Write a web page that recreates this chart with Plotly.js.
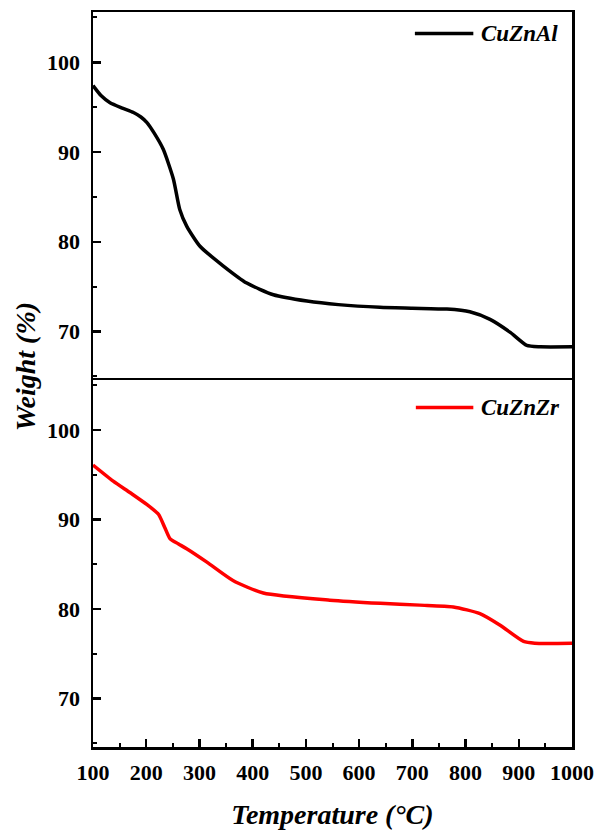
<!DOCTYPE html>
<html>
<head>
<meta charset="utf-8">
<script src="https://cdn.plot.ly/plotly-3.0.1.min.js"></script>
<style>html,body{margin:0;padding:0;background:#fff;}#chart{width:598px;height:830px;}</style>
</head>
<body>
<div id="chart"></div>
<script>
// Data
const seriesNames = ["CuZnAl", "CuZnZr"];
const tempAl = [100,115,132,155,176,190,201,215,232,251,263,276,301,345,389,439,502,561,639,700,765,808,846,884,915,940,1000];
const weightAl = [97.4,96.3,95.5,94.9,94.4,93.9,93.3,92.1,90.3,87.0,83.6,81.75,79.5,77.3,75.4,74.1,73.4,73.0,72.7,72.6,72.5,72.2,71.35,69.9,68.45,68.3,68.3];
const tempZr = [100,138,170,201,223,235,245,260,276,314,363,420,545,640,714,777,827,865,909,930,1000];
const weightZr = [96.1,94.3,93.0,91.7,90.6,89.1,87.85,87.3,86.75,85.25,83.2,81.8,81.0,80.65,80.45,80.25,79.5,78.2,76.4,76.2,76.2];
const xTicks = [100,200,300,400,500,600,700,800,900,1000];
const yTicks = [70,80,90,100];
const colors = ["#000000", "#ff0000"];

const fontFam = "Liberation Serif, Times New Roman, serif";

const traces = [
  {x: tempAl, y: weightAl, xaxis: "x", yaxis: "y", mode: "lines", name: seriesNames[0],
   line: {color: colors[0], width: 3.5, shape: "spline", smoothing: 0.6}, showlegend: false},
  {x: tempZr, y: weightZr, xaxis: "x2", yaxis: "y2", mode: "lines", name: seriesNames[1],
   line: {color: colors[1], width: 3.5, shape: "spline", smoothing: 0.6}, showlegend: false}
];

const yCommon = {
  range: [64.6, 105.6], tickvals: yTicks, ticktext: yTicks.map(v => "<b>" + v + "</b>"),
  ticks: "inside", ticklen: 8, tickwidth: 2.5, tickcolor: "#000",
  minor: {dtick: 5, ticks: "inside", ticklen: 4, tickwidth: 2, tickcolor: "#000"},
  showline: true, linewidth: 2.5, linecolor: "#000", mirror: true,
  showgrid: false, zeroline: false, ticklabelstandoff: 6,
  tickfont: {family: fontFam, size: 22, color: "#000"}
};

const layout = {
  width: 598, height: 830,
  margin: {l: 93, r: 26, t: 12, b: 83},
  paper_bgcolor: "#fff", plot_bgcolor: "#fff",
  showlegend: false,
  xaxis: {domain: [0,1], anchor: "y", side: "top", range: [100,1000], matches: "x2",
          showticklabels: false, ticks: "", showline: true, linewidth: 2.5, linecolor: "#000",
          mirror: false, showgrid: false, zeroline: false},
  yaxis: Object.assign({}, yCommon, {domain: [0.4993, 1], anchor: "x"}),
  xaxis2: {domain: [0,1], anchor: "y2", range: [100,1000], tickvals: xTicks,
           ticktext: xTicks.map(v => "<b>" + v + "</b>"),
           ticks: "inside", ticklen: 8, tickwidth: 2.5, tickcolor: "#000",
           minor: {dtick: 50, ticks: "inside", ticklen: 4, tickwidth: 2, tickcolor: "#000"},
           showline: true, linewidth: 2.5, linecolor: "#000", mirror: true,
           showgrid: false, zeroline: false, ticklabelstandoff: 4,
           tickfont: {family: fontFam, size: 22, color: "#000"},
           title: {text: "<b><i>Temperature (°C)</i></b>", standoff: 22,
                   font: {family: fontFam, size: 28, color: "#000"}}},
  yaxis2: Object.assign({}, yCommon, {domain: [0, 0.4993], anchor: "x2"}),
  shapes: [
    {type: "line", xref: "paper", yref: "paper", x0: 0.672, x1: 0.794, y0: 0.9707, y1: 0.9707,
     line: {color: colors[0], width: 3.5}},
    {type: "line", xref: "paper", yref: "paper", x0: 0.674, x1: 0.794, y0: 0.4619, y1: 0.4619,
     line: {color: colors[1], width: 3.5}}
  ],
  annotations: [
    {text: "<b><i>" + seriesNames[0] + "</i></b>", xref: "paper", yref: "paper", x: 0.806, y: 0.9707,
     xanchor: "left", yanchor: "middle", showarrow: false,
     font: {family: fontFam, size: 23, color: "#000"}},
    {text: "<b><i>" + seriesNames[1] + "</i></b>", xref: "paper", yref: "paper", x: 0.806, y: 0.4619,
     xanchor: "left", yanchor: "middle", showarrow: false,
     font: {family: fontFam, size: 23, color: "#000"}},
    {text: "<b><i>Weight (%)</i></b>", xref: "paper", yref: "paper", x: -0.142, y: 0.518,
     xanchor: "center", yanchor: "middle", textangle: -90, showarrow: false,
     font: {family: fontFam, size: 28, color: "#000"}}
  ]
};

Plotly.newPlot("chart", traces, layout, {staticPlot: true, displayModeBar: false});
</script>
</body>
</html>
